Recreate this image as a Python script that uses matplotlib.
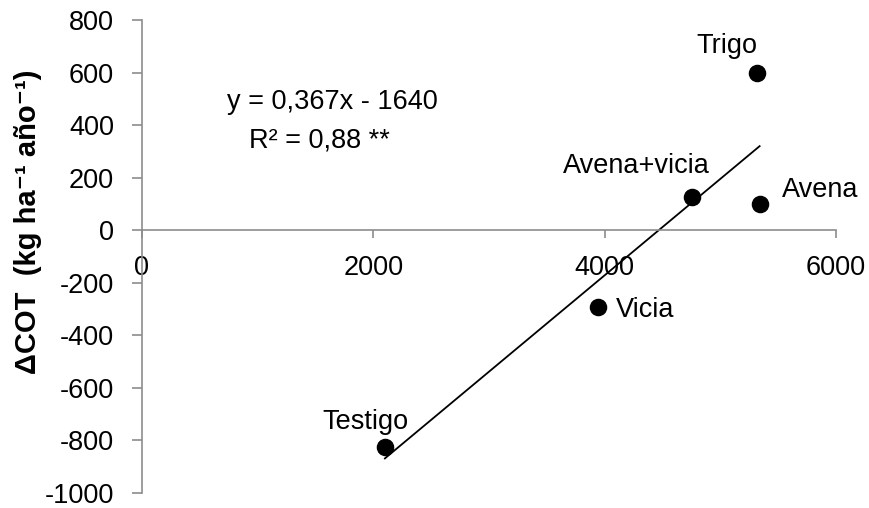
import numpy as np
import matplotlib.pyplot as plt

plt.rcParams['font.family'] = ['Liberation Sans', 'DejaVu Sans']
plt.rcParams['axes.unicode_minus'] = False

names = ["Testigo", "Vicia", "Avena+vicia", "Trigo", "Avena"]
x = np.array([2100, 3945, 4755, 5320, 5340])
y = np.array([-826, -292, 128, 600, 101])
slope, intercept = 0.367, -1640

# label offsets (points) and alignments
offsets = {"Testigo": (-14, 18, "center"), "Vicia": (13, -2, "left"),
           "Avena+vicia": (-40, 22, "center"), "Trigo": (-22, 19, "center"),
           "Avena": (16, 10, "left")}

fs = 19.5
fig = plt.figure(figsize=(8.69, 5.08), dpi=100)
ax = fig.add_axes([0.1634, 0.03, 0.7986, 0.9306])

xl = np.array([x.min(), x.max()])
ax.plot(xl, slope * xl + intercept, color='black', lw=1.3, zorder=2)
ax.scatter(x, y, s=135, color='black', zorder=3)

for n, xi, yi in zip(names, x, y):
    dx, dy, ha = offsets[n]
    ax.annotate(n, (xi, yi), xytext=(dx, dy), textcoords='offset points',
                ha=ha, va='center', fontsize=fs)

ax.text(0.274, 0.826, "y = 0,367x - 1640", transform=ax.transAxes,
        ha='center', va='center', fontsize=fs)
ax.text(0.256, 0.746, "R² = 0,88 **", transform=ax.transAxes,
        ha='center', va='center', fontsize=fs)

ax.set_xlim(0, 6000)
ax.set_ylim(-1000, 800)
ax.set_xticks([0, 2000, 4000, 6000])
ax.set_yticks(np.arange(-1000, 801, 200))

gray = '#8c8c8c'
for s in ['top', 'right']:
    ax.spines[s].set_visible(False)
ax.spines['bottom'].set_position(('data', 0))
for s in ['bottom', 'left']:
    ax.spines[s].set_color(gray)
    ax.spines[s].set_linewidth(1.2)
ax.tick_params(axis='y', length=7, width=1.2, color=gray, labelsize=fs, pad=13)
ax.tick_params(axis='x', length=6, width=1.2, color=gray, labelsize=fs, pad=12)

ax.text(-0.164, 0.574, "ΔCOT  (kg ha⁻¹ año⁻¹)", transform=ax.transAxes,
        rotation=90, ha='center', va='center', fontsize=21, fontweight='bold')

fig.savefig("out.png", dpi=100)
